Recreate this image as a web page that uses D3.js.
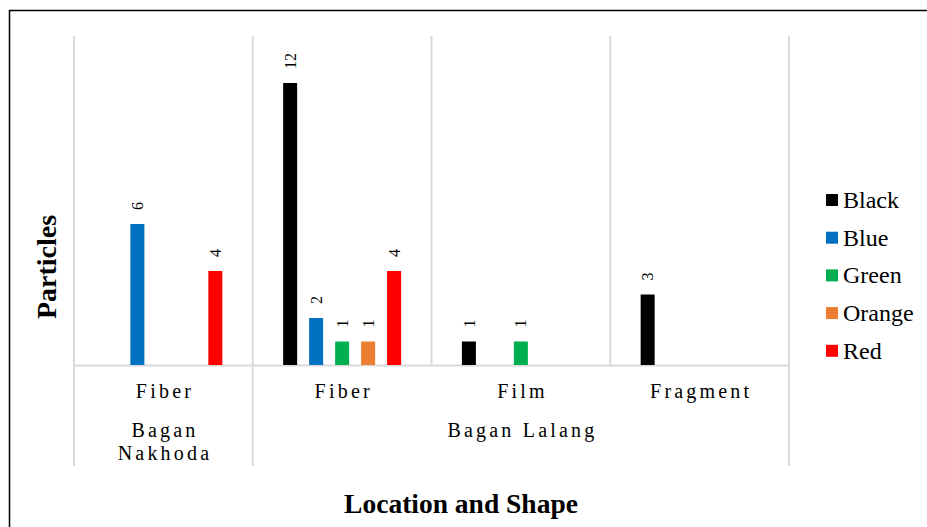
<!DOCTYPE html>
<html>
<head>
<meta charset="utf-8">
<script src="https://cdn.jsdelivr.net/npm/d3@7"></script>
<style>
  html, body { margin: 0; padding: 0; background: #fff; }
  svg { display: block; }
  svg text { font-family: "Liberation Serif", "Times New Roman", Tinos, serif; }
</style>
</head>
<body>
<svg id="chart" width="927" height="527"></svg>
<script>
// Microplastic particles by location, shape and colour
const shapes    = ["Fiber", "Fiber", "Film", "Fragment"];
const locations = ["Bagan Nakhoda", "Bagan Lalang", "Bagan Lalang", "Bagan Lalang"];
const seriesNames = ["Black", "Blue", "Green", "Orange", "Red"];
const black  = [null, 12, 1, 3];
const blue   = [6, 2, null, null];
const green  = [null, 1, 1, null];
const orange = [null, 1, null, null];
const red    = [4, 4, null, null];
const seriesColors = ["#000000", "#0070C0", "#00B050", "#ED7D31", "#FF0000"];
const yMax = 14;

const seriesValues = [black, blue, green, orange, red];
const cats = shapes.map((s, i) => i);
const serif = '"Liberation Serif", "Times New Roman", Tinos, serif';

const svg = d3.select("#chart");
const plot = { left: 74, right: 789, top: 36, bottom: 365, labelBottom: 466 };
const grid = "#d9d9d9";

// outer frame
svg.append("rect")
  .attr("x", 9.5).attr("y", 10.5)
  .attr("width", 1000).attr("height", 700)
  .attr("fill", "none").attr("stroke", "#000").attr("stroke-width", 1.5);

const x0 = d3.scaleBand().domain(cats).range([plot.left, plot.right]).padding(0);
const x1 = d3.scaleBand().domain(seriesNames).range([0, x0.bandwidth()])
  .paddingInner(0.4615).paddingOuter(1.17);
const y = d3.scaleLinear().domain([0, yMax]).range([plot.bottom, plot.top]);

// vertical category gridlines
const edges = cats.map(c => x0(c)).concat([plot.right]);
svg.append("g").selectAll("line").data(edges).join("line")
  .attr("x1", d => d).attr("x2", d => d)
  .attr("y1", plot.top).attr("y2", plot.bottom)
  .attr("stroke", grid).attr("stroke-width", 2);

// category axis line
const xAxis = d3.axisBottom(x0).tickSize(0).tickFormat("");
const axisG = svg.append("g").attr("transform", `translate(0,${plot.bottom})`).call(xAxis);
axisG.select(".domain").attr("stroke", grid).attr("stroke-width", 2);

// location group boundaries extend through the label area
const groups = [];
locations.forEach((loc, i) => {
  const last = groups[groups.length - 1];
  if (last && last.name === loc) last.end = i;
  else groups.push({ name: loc, start: i, end: i });
});
const groupEdges = groups.map(g => x0(g.start)).concat([plot.right]);
svg.append("g").selectAll("line").data(groupEdges).join("line")
  .attr("x1", d => d).attr("x2", d => d)
  .attr("y1", plot.bottom).attr("y2", plot.labelBottom)
  .attr("stroke", grid).attr("stroke-width", 2);

// bars
const barData = [];
cats.forEach(c => seriesNames.forEach((s, k) => {
  const v = seriesValues[k][c];
  if (v != null) barData.push({ c, s, k, v });
}));

svg.append("g").selectAll("rect").data(barData).join("rect")
  .attr("x", d => x0(d.c) + x1(d.s))
  .attr("y", d => y(d.v))
  .attr("width", x1.bandwidth())
  .attr("height", d => y(0) - y(d.v))
  .attr("fill", d => seriesColors[d.k]);

// value labels, rotated
svg.append("g").selectAll("text").data(barData).join("text")
  .attr("transform", d => `translate(${x0(d.c) + x1(d.s) + x1.bandwidth() / 2},${y(d.v) - 14}) rotate(-90)`)
  .attr("dy", "0.35em")
  .attr("font-family", serif)
  .attr("font-size", 16)
  .attr("fill", "#000")
  .text(d => d.v);

// shape labels
const ls = 3.2;
svg.append("g").selectAll("text").data(cats).join("text")
  .attr("x", c => x0(c) + x0.bandwidth() / 2 + ls / 2)
  .attr("y", 398)
  .attr("text-anchor", "middle")
  .attr("font-family", serif)
  .attr("font-size", 20)
  .attr("letter-spacing", ls)
  .attr("fill", "#000")
  .text(c => shapes[c]);

// location labels, wrapped when too wide for their span
groups.forEach(g => {
  const x0s = x0(g.start), x1s = x0(g.end) + x0.bandwidth();
  const cx = (x0s + x1s) / 2 + ls / 2;
  const t = svg.append("text")
    .attr("x", cx).attr("y", 437)
    .attr("text-anchor", "middle")
    .attr("font-family", serif)
    .attr("font-size", 20)
    .attr("letter-spacing", ls)
    .attr("fill", "#000")
    .text(g.name);
  if (t.node().getComputedTextLength() > (x1s - x0s) * 0.85) {
    const words = g.name.split(" ");
    t.text(null);
    words.forEach((w, i) => {
      t.append("tspan").attr("x", cx).attr("dy", i === 0 ? 0 : 23).text(w);
    });
  }
});

// axis titles
svg.append("text")
  .attr("x", 461).attr("y", 513)
  .attr("text-anchor", "middle")
  .attr("font-family", serif)
  .attr("font-size", 27.5).attr("font-weight", "bold")
  .text("Location and Shape");

svg.append("text")
  .attr("transform", "translate(56,267) rotate(-90)")
  .attr("text-anchor", "middle")
  .attr("font-family", serif)
  .attr("font-size", 28).attr("font-weight", "bold")
  .text("Particles");

// legend
const legend = svg.append("g").selectAll("g").data(seriesNames).join("g")
  .attr("transform", (d, i) => `translate(826,${208 + i * 37.7})`);
legend.append("rect")
  .attr("x", 0).attr("y", -14).attr("width", 12).attr("height", 12)
  .attr("fill", (d, i) => seriesColors[i]);
legend.append("text")
  .attr("x", 17).attr("y", 0)
  .attr("font-family", serif)
  .attr("font-size", 24)
  .attr("fill", "#000")
  .text(d => d);
</script>
</body>
</html>
